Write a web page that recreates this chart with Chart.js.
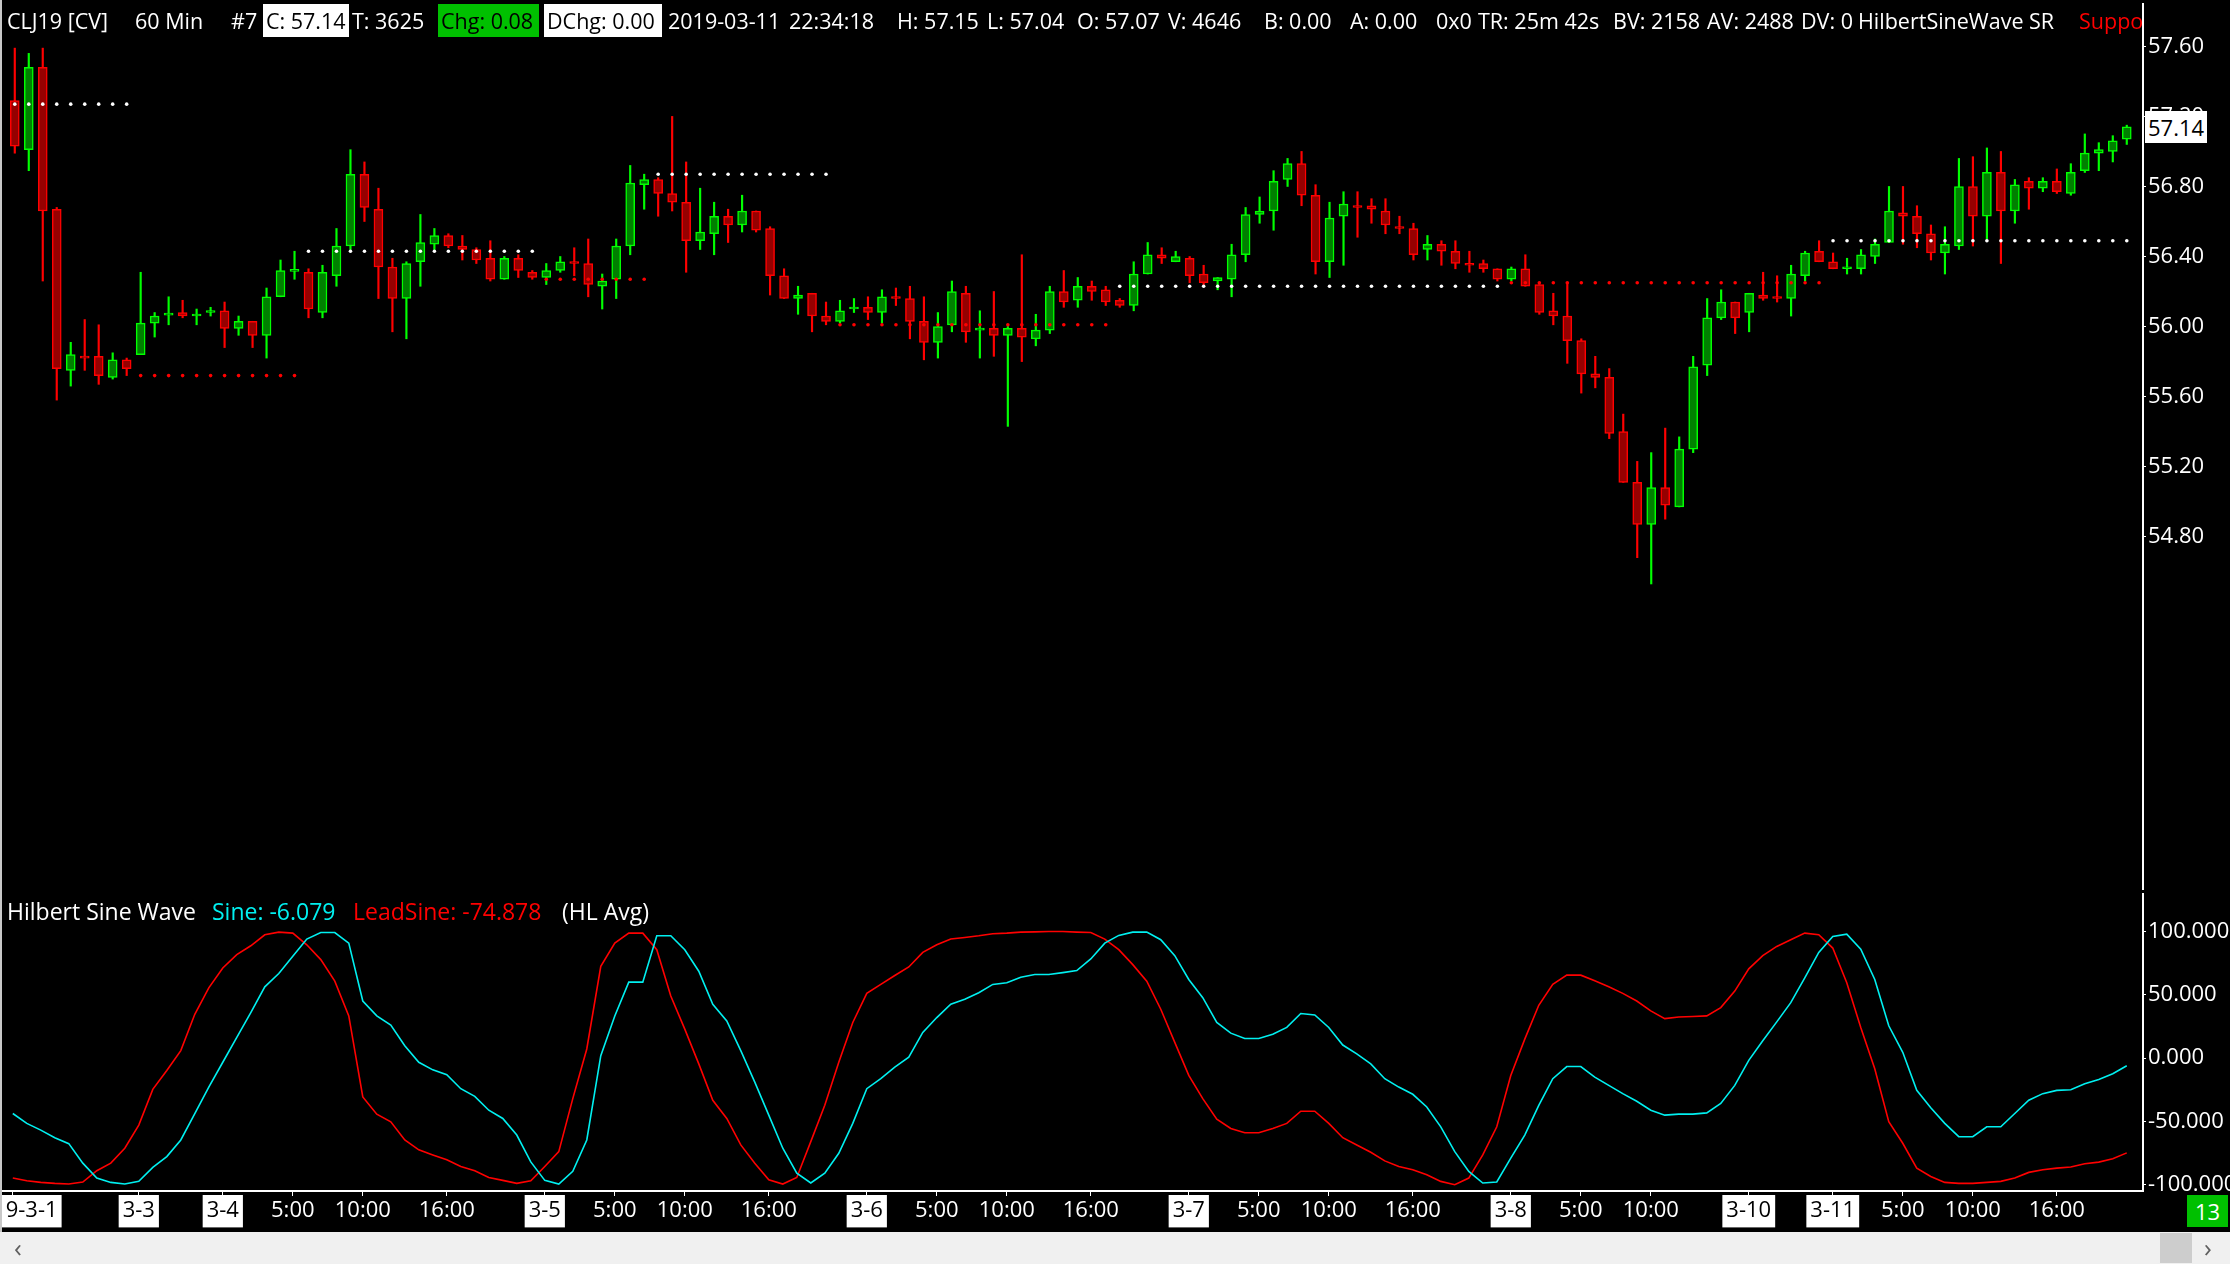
<!DOCTYPE html>
<html>
<head>
<meta charset="utf-8">
<script src="https://cdn.jsdelivr.net/npm/chart.js@4.4.1/dist/chart.umd.min.js"></script>
<style>
  html, body { margin: 0; padding: 0; background: #000; }
  body { width: 2230px; height: 1264px; position: relative; overflow: hidden; font-family: "Open Sans", sans-serif; }
  #pricePane { position: absolute; left: 0; top: 0; width: 2230px; height: 893px; }
  #sinePane { position: absolute; left: 0; top: 893px; width: 2230px; height: 339px; }
  #header { position: absolute; left: 0; top: 0; width: 2143px; height: 42px; overflow: hidden; color: #fff; font-size: 21.5px; white-space: pre; }
  #header span, #legend span { position: absolute; }
  #header span { top: 4px; height: 33px; line-height: 33px; }
  .box { background: #fff; color: #000; box-sizing: border-box; padding-left: 3px; }
  .gbox { background: #00c000; color: #000; box-sizing: border-box; padding-left: 3px; }
  #legend { position: absolute; left: 0; top: 896px; width: 900px; height: 30px; font-size: 23px; white-space: pre; }
  #legend span { top: 0; line-height: 30px; }
  #lastPrice { position: absolute; left: 2145px; width: 62px; height: 32px; background: #fff; color: #000;
               font-size: 22px; line-height: 32px; padding-left: 3px; box-sizing: border-box; }
  #barCount { position: absolute; left: 2187px; top: 1195px; width: 41px; height: 32px; background: #00c000; color: #fff;
              font-size: 22px; line-height: 32px; text-align: center; }
  #scroll { position: absolute; left: 0; top: 1232px; width: 2230px; height: 32px; background: #f0f0f0; color: #606060; font-size: 26px; }
  #scroll span { position: absolute; top: 0; line-height: 30px; }
  #thumb { position: absolute; left: 2160px; top: 1px; width: 32px; height: 30px; background: #cdcdcd; }
  #leftEdge { position: absolute; left: 0; top: 0; width: 2px; height: 1232px; background: #c8c8c8; }
</style>
</head>
<body>
<div id="pricePane"><canvas id="priceChart"></canvas></div>
<div id="sinePane"><canvas id="sineChart"></canvas></div>

<div id="header">
  <span style="left:7px">CLJ19 [CV]</span>
  <span style="left:135px">60 Min</span>
  <span style="left:231px">#7</span>
  <span class="box" style="left:263px;width:86px">C: 57.14</span>
  <span style="left:352px">T: 3625</span>
  <span class="gbox" style="left:438px;width:101px">Chg: 0.08</span>
  <span class="box" style="left:544px;width:118px">DChg: 0.00</span>
  <span style="left:668px">2019-03-11</span>
  <span style="left:789px">22:34:18</span>
  <span style="left:897px">H: 57.15</span>
  <span style="left:987px">L: 57.04</span>
  <span style="left:1077px">O: 57.07</span>
  <span style="left:1168px">V: 4646</span>
  <span style="left:1264px">B: 0.00</span>
  <span style="left:1350px">A: 0.00</span>
  <span style="left:1436px">0x0</span>
  <span style="left:1478px">TR: 25m 42s</span>
  <span style="left:1613px">BV: 2158</span>
  <span style="left:1707px">AV: 2488</span>
  <span style="left:1801px">DV: 0</span>
  <span style="left:1858px">HilbertSineWave SR</span>
  <span style="left:2079px;color:#ff0000">Support</span>
</div>

<div id="legend">
  <span style="left:7px;color:#fff">Hilbert Sine Wave</span>
  <span style="left:212px;color:#00f0f0">Sine: -6.079</span>
  <span style="left:353px;color:#ff0000">LeadSine: -74.878</span>
  <span style="left:562px;color:#fff">(HL Avg)</span>
</div>

<div id="lastPrice">57.14</div>
<div id="barCount">13</div>
<div id="scroll">
  <span style="left:14px">&#8249;</span>
  <div id="thumb"></div>
  <span style="left:2204px">&#8250;</span>
</div>
<div id="leftEdge"></div>

<script>
// 60 min bars, 2019-03-01 08:00 to 2019-03-11 22:00
const opens = [57.29, 57.01, 57.48, 56.67, 55.75, 55.83, 55.83, 55.71, 55.81, 55.84,
  56.02, 56.065, 56.08, 56.06, 56.08, 56.09, 55.99, 56.03, 55.95, 56.17,
  56.315, 56.31, 56.08, 56.29, 56.46, 56.87, 56.67, 56.34, 56.16, 56.37,
  56.47, 56.52, 56.46, 56.44, 56.39, 56.27, 56.39, 56.31, 56.28, 56.32,
  56.37, 56.36, 56.23, 56.27, 56.46, 56.81, 56.84, 56.76, 56.71, 56.49,
  56.53, 56.63, 56.58, 56.66, 56.56, 56.29, 56.16, 56.19, 56.06, 56.03,
  56.10, 56.11, 56.08, 56.17, 56.16, 56.03, 55.91, 56.01, 56.19, 55.98,
  55.99, 55.95, 55.99, 55.93, 55.98, 56.20, 56.15, 56.23, 56.21, 56.15,
  56.12, 56.30, 56.41, 56.37, 56.39, 56.30, 56.26, 56.27, 56.41, 56.64,
  56.66, 56.84, 56.93, 56.75, 56.37, 56.63, 56.69, 56.69, 56.66, 56.57,
  56.56, 56.44, 56.47, 56.43, 56.36, 56.36, 56.33, 56.27, 56.33, 56.24,
  56.09, 56.06, 55.92, 55.73, 55.71, 55.40, 55.11, 54.87, 55.08, 54.97,
  55.30, 55.78, 56.05, 56.14, 56.08, 56.18, 56.165, 56.16, 56.29, 56.43,
  56.37, 56.33, 56.33, 56.40, 56.48, 56.65, 56.63, 56.53, 56.42, 56.46,
  56.80, 56.63, 56.88, 56.66, 56.83, 56.79, 56.83, 56.76, 56.89, 56.99,
  57.00, 57.07];
const highs = [57.59, 57.56, 57.59, 56.68, 55.91, 56.04, 56.01, 55.85, 55.82, 56.31,
  56.08, 56.17, 56.15, 56.10, 56.11, 56.14, 56.06, 56.03, 56.22, 56.38,
  56.43, 56.33, 56.35, 56.56, 57.01, 56.94, 56.79, 56.39, 56.37, 56.64,
  56.56, 56.53, 56.52, 56.45, 56.49, 56.40, 56.41, 56.32, 56.36, 56.40,
  56.45, 56.50, 56.30, 56.50, 56.92, 56.87, 56.85, 57.20, 56.94, 56.79,
  56.71, 56.67, 56.75, 56.66, 56.57, 56.33, 56.23, 56.19, 56.14, 56.15,
  56.16, 56.17, 56.21, 56.22, 56.23, 56.17, 56.08, 56.26, 56.23, 56.09,
  56.20, 56.00, 56.41, 56.07, 56.23, 56.32, 56.28, 56.26, 56.23, 56.16,
  56.37, 56.48, 56.45, 56.43, 56.40, 56.35, 56.28, 56.47, 56.68, 56.74,
  56.89, 56.96, 57.00, 56.81, 56.71, 56.77, 56.77, 56.73, 56.73, 56.63,
  56.59, 56.52, 56.49, 56.49, 56.43, 56.38, 56.33, 56.34, 56.41, 56.24,
  56.19, 56.25, 55.93, 55.83, 55.76, 55.50, 55.23, 55.28, 55.42, 55.37,
  55.83, 56.16, 56.21, 56.14, 56.19, 56.31, 56.29, 56.35, 56.43, 56.49,
  56.42, 56.39, 56.44, 56.50, 56.80, 56.80, 56.69, 56.58, 56.57, 56.96,
  56.97, 57.02, 57.00, 56.84, 56.85, 56.85, 56.90, 56.93, 57.10, 57.05,
  57.09, 57.15];
const lows = [56.99, 56.89, 56.26, 55.58, 55.66, 55.75, 55.67, 55.70, 55.72, 55.84,
  55.94, 56.01, 56.05, 56.01, 56.06, 55.88, 55.95, 55.88, 55.82, 56.17,
  56.27, 56.05, 56.05, 56.23, 56.44, 56.60, 56.16, 55.97, 55.93, 56.23,
  56.44, 56.45, 56.38, 56.36, 56.26, 56.27, 56.28, 56.27, 56.24, 56.31,
  56.29, 56.17, 56.10, 56.16, 56.41, 56.67, 56.63, 56.66, 56.31, 56.44,
  56.41, 56.48, 56.54, 56.54, 56.18, 56.16, 56.07, 55.97, 56.01, 56.02,
  56.08, 56.04, 56.02, 56.12, 55.93, 55.81, 55.82, 55.97, 55.91, 55.82,
  55.83, 55.43, 55.80, 55.89, 55.96, 56.11, 56.11, 56.15, 56.12, 56.11,
  56.09, 56.30, 56.36, 56.37, 56.25, 56.24, 56.21, 56.17, 56.37, 56.59,
  56.55, 56.80, 56.69, 56.30, 56.28, 56.35, 56.51, 56.59, 56.53, 56.53,
  56.38, 56.38, 56.35, 56.33, 56.31, 56.31, 56.26, 56.26, 56.23, 56.07,
  56.01, 55.79, 55.62, 55.65, 55.36, 55.11, 54.68, 54.53, 54.90, 54.97,
  55.28, 55.72, 56.04, 55.96, 55.97, 56.15, 56.14, 56.06, 56.26, 56.37,
  56.33, 56.30, 56.30, 56.36, 56.48, 56.47, 56.45, 56.38, 56.30, 56.44,
  56.46, 56.50, 56.36, 56.59, 56.67, 56.77, 56.76, 56.75, 56.88, 56.89,
  56.94, 57.04];
const closes = [57.03, 57.48, 56.66, 55.76, 55.84, 55.82, 55.72, 55.81, 55.76, 56.02,
  56.06, 56.07, 56.06, 56.07, 56.09, 55.99, 56.03, 55.95, 56.17, 56.32,
  56.32, 56.10, 56.31, 56.46, 56.87, 56.68, 56.34, 56.16, 56.36, 56.48,
  56.52, 56.46, 56.44, 56.38, 56.27, 56.39, 56.32, 56.28, 56.32, 56.37,
  56.36, 56.24, 56.26, 56.46, 56.82, 56.84, 56.76, 56.71, 56.49, 56.54,
  56.63, 56.58, 56.66, 56.55, 56.29, 56.16, 56.18, 56.06, 56.03, 56.09,
  56.11, 56.08, 56.17, 56.16, 56.03, 55.91, 56.00, 56.20, 55.97, 55.99,
  55.95, 55.99, 55.94, 55.98, 56.20, 56.14, 56.23, 56.20, 56.14, 56.12,
  56.30, 56.41, 56.39, 56.40, 56.29, 56.25, 56.28, 56.41, 56.64, 56.66,
  56.83, 56.93, 56.75, 56.37, 56.62, 56.70, 56.68, 56.67, 56.58, 56.56,
  56.41, 56.47, 56.43, 56.36, 56.35, 56.33, 56.27, 56.33, 56.23, 56.08,
  56.06, 55.92, 55.73, 55.71, 55.39, 55.11, 54.87, 55.08, 54.98, 55.30,
  55.77, 56.05, 56.14, 56.05, 56.19, 56.16, 56.16, 56.30, 56.42, 56.37,
  56.33, 56.34, 56.41, 56.47, 56.66, 56.63, 56.53, 56.42, 56.47, 56.80,
  56.63, 56.88, 56.66, 56.81, 56.79, 56.83, 56.77, 56.88, 56.99, 57.01,
  57.06, 57.14];

const sineVals = [-43.8, -51.6, -56.9, -62.9, -67.6, -83.0, -94.8, -98.2, -99.5, -97.4,
  -86.4, -77.8, -64.7, -43.8, -22.9, -3.3, 16.3, 35.9, 56.3, 66.8,
  80.4, 94.0, 99.2, 99.2, 90.8, 45.1, 33.3, 26.0, 9.8, -3.3,
  -9.3, -13.2, -24.2, -30.2, -41.2, -47.7, -60.8, -82.0, -96.6, -99.5,
  -89.5, -64.7, 1.9, 33.3, 60.0, 60.0, 96.6, 96.6, 85.6, 68.6,
  42.5, 29.4, 5.9, -19.0, -45.1, -71.2, -90.9, -98.7, -90.9, -75.2,
  -51.6, -24.2, -16.3, -7.2, 0.7, 20.3, 32.0, 42.5, 46.4, 51.6,
  58.2, 59.5, 63.9, 66.0, 66.0, 67.5, 69.1, 78.3, 90.8, 96.9,
  99.5, 99.5, 93.5, 80.9, 62.1, 47.7, 28.1, 19.7, 15.5, 15.5,
  18.9, 24.2, 35.2, 34.1, 24.2, 10.3, 3.3, -4.6, -16.3, -22.9,
  -28.6, -38.6, -54.3, -73.9, -89.5, -98.7, -97.9, -79.1, -60.8, -37.3,
  -16.3, -6.7, -6.7, -15.0, -21.6, -28.1, -34.1, -41.2, -45.1, -44.3,
  -44.3, -43.3, -35.9, -21.6, -1.8, 13.7, 28.6, 43.8, 63.4, 83.5,
  96.1, 97.9, 86.1, 62.1, 25.5, 4.6, -25.5, -39.3, -51.6, -62.1,
  -62.1, -54.3, -54.3, -43.8, -33.3, -28.1, -25.5, -25.0, -20.3, -16.9,
  -12.4, -6.079];
const leadSineVals = [-94.8, -96.9, -98.2, -99.0, -99.5, -97.9, -89.0, -83.0, -71.2, -52.9,
  -24.7, -9.8, 5.9, 34.6, 55.5, 71.2, 81.7, 88.7, 97.4, 99.5,
  98.7, 89.5, 77.8, 60.8, 33.3, -30.7, -44.3, -50.3, -64.7, -72.5,
  -76.5, -80.4, -85.6, -89.0, -94.3, -96.6, -99.0, -97.0, -85.6, -73.9,
  -32.0, 7.2, 72.5, 90.8, 98.7, 98.7, 85.6, 49.0, 22.9, -4.6,
  -33.3, -47.7, -68.6, -83.0, -96.1, -99.5, -94.3, -66.0, -37.3, -3.3,
  28.1, 51.1, 58.2, 65.2, 72.0, 83.5, 89.5, 94.0, 95.3, 96.6,
  98.2, 98.7, 99.5, 99.7, 100.0, 100.0, 99.5, 99.2, 94.0, 85.6,
  73.8, 60.8, 38.6, 12.4, -13.7, -32.0, -48.2, -55.6, -59.0, -59.0,
  -55.6, -51.6, -42.0, -42.0, -51.6, -62.9, -68.6, -74.4, -81.2, -85.6,
  -88.2, -92.2, -97.4, -100.0, -94.8, -76.5, -54.3, -13.7, 15.0, 41.7,
  58.2, 65.5, 65.5, 61.0, 56.3, 51.1, 45.1, 37.3, 31.2, 32.5,
  32.8, 33.3, 39.9, 52.9, 70.5, 80.9, 88.2, 93.5, 98.7, 97.4,
  86.9, 59.5, 24.2, -8.5, -50.3, -67.3, -86.9, -93.5, -98.2, -99.0,
  -99.0, -98.2, -97.4, -94.8, -90.3, -88.2, -86.9, -86.1, -83.5, -82.2,
  -79.6, -74.878];

// support / resistance dots: level, first bar, last bar, type (R = white, S = red)
const srLevel = [57.27, 55.72, 56.43, 56.27, 56.87, 56.01, 56.23, 56.25, 56.49];
const srFrom  = [0, 9, 21, 38, 46, 59, 79, 107, 130];
const srTo    = [8, 20, 37, 45, 58, 78, 106, 129, 151];
const srType  = ['R', 'S', 'R', 'S', 'R', 'S', 'R', 'S', 'R'];

// axis ticks
const priceTicks = [57.6, 57.2, 56.8, 56.4, 56.0, 55.6, 55.2, 54.8];
const sineTicks = [100, 50, 0, -50, -100];
const xTickIdx  = [0, 9, 15, 20, 25, 31, 38, 43, 48, 54, 61, 66, 71, 77, 84, 89, 94, 100, 107, 112, 117, 124, 130, 135, 140, 146];
const xTickText = ['2019-3-1', '3-3', '3-4', '5:00', '10:00', '16:00', '3-5', '5:00', '10:00', '16:00',
  '3-6', '5:00', '10:00', '16:00', '3-7', '5:00', '10:00', '16:00', '3-8', '5:00', '10:00',
  '3-10', '3-11', '5:00', '10:00', '16:00'];

const UP_FILL = '#008000', UP_LINE = '#00ff00';
const DN_FILL = '#960000', DN_LINE = '#ff0000';
const X_MIN = -0.771, X_MAX = 152.16;
const AXIS_FONT = { family: 'Open Sans', size: 22 };

const isUp = closes.map((c, i) => c >= opens[i]);
const bodyData = opens.map((o, i) => ({ x: i, y: [Math.min(o, closes[i]), Math.max(o, closes[i])] }));
const wickData = opens.map((o, i) => ({ x: i, y: [lows[i], highs[i]] }));

const srSets = srLevel.map((lvl, k) => {
  const pts = [];
  for (let i = srFrom[k]; i <= srTo[k]; i++) pts.push({ x: i, y: lvl });
  const col = srType[k] === 'S' ? '#ff0000' : '#ffffff';
  return {
    type: 'line', data: pts, showLine: false, order: 1,
    pointRadius: 1.8, pointBackgroundColor: col, pointBorderWidth: 0
  };
});

function rightAxisFit(scale) {
  scale.width = 87;
  scale.paddingTop = 0;
  scale.paddingBottom = 0;
}

const priceChart = new Chart(document.getElementById('priceChart'), {
  type: 'bar',
  data: {
    datasets: [
      {
        data: wickData, grouped: false, order: 3, barThickness: 1.5,
        backgroundColor: isUp.map(u => u ? UP_LINE : DN_LINE)
      },
      {
        data: bodyData, grouped: false, order: 2, barThickness: 9, minBarLength: 2,
        backgroundColor: isUp.map(u => u ? UP_FILL : DN_FILL),
        borderColor: isUp.map(u => u ? UP_LINE : DN_LINE),
        borderWidth: 1.5, borderSkipped: false
      },
      ...srSets
    ]
  },
  options: {
    responsive: true,
    maintainAspectRatio: false,
    animation: false,
    events: [],
    layout: { padding: { left: 2, right: 0, top: 0, bottom: 0 } },
    plugins: { legend: { display: false }, tooltip: { enabled: false } },
    scales: {
      x: { type: 'linear', display: false, offset: false, min: X_MIN, max: X_MAX },
      y: {
        position: 'right',
        min: 52.788, max: 57.842,
        afterBuildTicks: s => { s.ticks = priceTicks.map(v => ({ value: v })); },
        afterFit: rightAxisFit,
        grid: { drawOnChartArea: false, drawTicks: true, tickLength: 3, color: '#fff' },
        border: { display: true, color: '#fff', width: 2 },
        ticks: { color: '#fff', font: AXIS_FONT, padding: 2, callback: v => v.toFixed(2) }
      }
    }
  }
});

const sineChart = new Chart(document.getElementById('sineChart'), {
  type: 'line',
  data: {
    datasets: [
      {
        data: sineVals.map((v, i) => ({ x: i, y: v })),
        borderColor: '#00f0f0', borderWidth: 1.6, pointRadius: 0, tension: 0
      },
      {
        data: leadSineVals.map((v, i) => ({ x: i, y: v })),
        borderColor: '#ff0000', borderWidth: 1.6, pointRadius: 0, tension: 0
      }
    ]
  },
  options: {
    responsive: true,
    maintainAspectRatio: false,
    animation: false,
    events: [],
    layout: { padding: { left: 2, right: 0, top: 0, bottom: 0 } },
    plugins: { legend: { display: false }, tooltip: { enabled: false } },
    scales: {
      x: {
        type: 'linear', offset: false, min: X_MIN, max: X_MAX,
        afterBuildTicks: s => { s.ticks = xTickIdx.map(v => ({ value: v })); },
        afterFit: s => { s.height = 41; s.paddingLeft = 0; s.paddingRight = 0; },
        grid: { drawOnChartArea: false, drawTicks: true, tickLength: 5, color: '#fff' },
        border: { display: true, color: '#fff', width: 2 },
        ticks: {
          autoSkip: false, maxRotation: 0, padding: 2, font: AXIS_FONT,
          callback: (v, idx) => xTickText[idx],
          color: ctx => xTickText[ctx.index].includes('-') ? '#000' : '#fff',
          showLabelBackdrop: ctx => xTickText[ctx.index].includes('-'),
          backdropColor: '#fff',
          backdropPadding: { top: 3, bottom: 3, left: 4, right: 4 }
        }
      },
      y: {
        position: 'right',
        min: -105, max: 130.4,
        afterBuildTicks: s => { s.ticks = sineTicks.map(v => ({ value: v })); },
        afterFit: rightAxisFit,
        grid: { drawOnChartArea: false, drawTicks: true, tickLength: 3, color: '#fff' },
        border: { display: true, color: '#fff', width: 2 },
        ticks: { color: '#fff', font: AXIS_FONT, padding: 2, callback: v => v.toFixed(3) }
      }
    }
  }
});

// last price marker on the price axis
const lastY = priceChart.scales.y.getPixelForValue(closes[closes.length - 1]);
document.getElementById('lastPrice').style.top = (lastY - 16) + 'px';
</script>
</body>
</html>
